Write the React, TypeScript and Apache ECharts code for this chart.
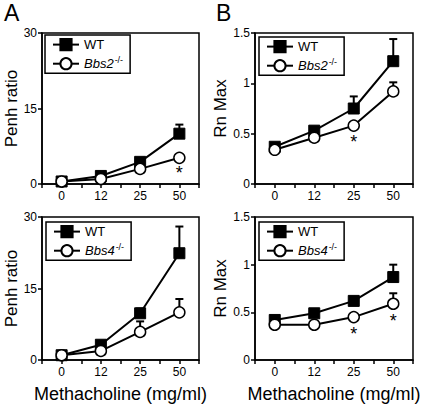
import React, { useEffect, useRef } from 'react';
import * as echarts from 'echarts';

const doses = ['0', '12', '25', '50'];
const penhTickLabels = ['0', '15', '30'];
const rnTickLabels = ['0', '0.5', '1', '1.5'];

const penhWT_Bbs2 = [0.5, 1.6, 4.4, 10.0];
const penhKO_Bbs2 = [0.5, 1.0, 3.0, 5.2];
const penhWT_Bbs2_err = [0, 0, 0, 1.8];
const penhKO_Bbs2_err = [0, 0, 0, 0];

const rnWT_Bbs2 = [0.37, 0.53, 0.75, 1.22];
const rnKO_Bbs2 = [0.34, 0.46, 0.58, 0.92];
const rnWT_Bbs2_err = [0, 0, 0.12, 0.22];
const rnKO_Bbs2_err = [0, 0, 0, 0.09];

const penhWT_Bbs4 = [1.0, 3.2, 9.8, 22.4];
const penhKO_Bbs4 = [1.0, 1.9, 5.9, 10.0];
const penhWT_Bbs4_err = [0, 0, 1.0, 5.6];
const penhKO_Bbs4_err = [0, 0, 2.2, 2.8];

const rnWT_Bbs4 = [0.42, 0.49, 0.62, 0.87];
const rnKO_Bbs4 = [0.37, 0.37, 0.45, 0.59];
const rnWT_Bbs4_err = [0, 0, 0, 0.13];
const rnKO_Bbs4_err = [0, 0, 0, 0.11];

const starsPenh_Bbs2 = [[3, 2.2]];
const starsRn_Bbs2 = [[2, 0.42]];
const starsPenh_Bbs4: number[][] = [];
const starsRn_Bbs4 = [[2, 0.27], [3, 0.41]];

const FONT = 'Liberation Sans, Arial, Helvetica, sans-serif';

const grids = [
  { left: 42, top: 33, width: 157, height: 151 },
  { left: 255, top: 33, width: 158, height: 151 },
  { left: 42, top: 217, width: 157, height: 146 },
  { left: 255, top: 217, width: 158, height: 146 },
];

function xAxis(i: number, name: string) {
  return {
    type: 'value',
    gridIndex: i,
    min: -0.5,
    max: 3.5,
    interval: 0.5,
    axisLine: { show: true, onZero: false, lineStyle: { color: '#000', width: 1.5 } },
    axisTick: { show: true, inside: false, length: 4, lineStyle: { color: '#000', width: 1.5 } },
    axisLabel: {
      fontSize: 12,
      color: '#000',
      margin: 6,
      fontFamily: FONT,
      formatter: (v: number) => {
        const r = Math.round(v);
        return Math.abs(v - r) < 1e-6 && r >= 0 && r < doses.length ? doses[r] : '';
      },
    },
    splitLine: { show: false },
    name,
    nameLocation: 'middle',
    nameGap: 25,
    nameTextStyle: { fontSize: 18, color: '#000', fontFamily: FONT },
  };
}

function yAxis(i: number, labels: string[], name: string) {
  const min = Number(labels[0]);
  const max = Number(labels[labels.length - 1]);
  const interval = Number(labels[1]) - Number(labels[0]);
  return {
    type: 'value',
    gridIndex: i,
    min,
    max,
    interval,
    axisLine: { show: true, onZero: false, lineStyle: { color: '#000', width: 1.5 } },
    axisTick: { show: true, inside: false, length: 4, lineStyle: { color: '#000', width: 1.5 } },
    axisLabel: {
      fontSize: 12,
      color: '#000',
      margin: 5,
      fontFamily: FONT,
      formatter: (v: number) => {
        const idx = labels.findIndex((l) => Math.abs(Number(l) - v) < 1e-6);
        return idx >= 0 ? labels[idx] : '';
      },
    },
    splitLine: { show: false },
    name,
    nameLocation: 'middle',
    nameRotate: 90,
    nameGap: 18,
    nameTextStyle: { fontSize: 17, color: '#000', fontFamily: FONT },
  };
}

function lineSeries(i: number, name: string, values: number[], wt: boolean) {
  return {
    type: 'line',
    name,
    xAxisIndex: i,
    yAxisIndex: i,
    data: values.map((v, k) => [k, v]),
    symbol: wt ? 'rect' : 'circle',
    symbolSize: 11,
    z: 3,
    lineStyle: { color: '#000', width: 2 },
    itemStyle: wt
      ? { color: '#000', borderColor: '#000', borderWidth: 1 }
      : { color: '#fff', borderColor: '#000', borderWidth: 1.5 },
  };
}

function errSeries(i: number, values: number[], errs: number[]) {
  return {
    type: 'custom',
    xAxisIndex: i,
    yAxisIndex: i,
    z: 1,
    silent: true,
    data: values.map((v, k) => [k, v, errs[k]]),
    renderItem: (params: any, api: any) => {
      const x = api.value(0);
      const y = api.value(1);
      const e = api.value(2);
      if (!e) return null;
      const p0 = api.coord([x, y]);
      const p1 = api.coord([x, y + e]);
      return {
        type: 'group',
        children: [
          { type: 'line', shape: { x1: p0[0], y1: p0[1], x2: p1[0], y2: p1[1] }, style: { stroke: '#000', lineWidth: 2 } },
          { type: 'line', shape: { x1: p1[0] - 4, y1: p1[1], x2: p1[0] + 4, y2: p1[1] }, style: { stroke: '#000', lineWidth: 2 } },
        ],
      };
    },
  };
}

function starSeries(i: number, pts: number[][]) {
  return {
    type: 'custom',
    xAxisIndex: i,
    yAxisIndex: i,
    z: 4,
    silent: true,
    data: pts,
    renderItem: (params: any, api: any) => {
      const p = api.coord([api.value(0), api.value(1)]);
      return {
        type: 'text',
        style: { text: '*', x: p[0], y: p[1], align: 'center', verticalAlign: 'middle', fontSize: 18, fill: '#000', fontFamily: FONT },
      };
    },
  };
}

function legend(left: number, top: number, ko: string) {
  return {
    orient: 'vertical',
    left,
    top,
    data: ['WT', ko],
    selectedMode: false,
    itemWidth: 26,
    itemHeight: 14,
    itemGap: 4,
    padding: [3, 7, 3, 7],
    borderColor: '#000',
    borderWidth: 1.5,
    backgroundColor: '#fff',
    formatter: (n: string) => (n === 'WT' ? '{n|WT}' : `{i|${n.slice(0, 4)}}{s|-/-}`),
    textStyle: {
      color: '#000',
      fontFamily: FONT,
      fontSize: 13,
      rich: {
        n: { fontSize: 13, color: '#000', fontFamily: FONT },
        i: { fontSize: 13, fontStyle: 'italic', color: '#000', fontFamily: FONT },
        s: { fontSize: 9, color: '#000', fontFamily: FONT, padding: [0, 0, 8, 1] },
      },
    },
  };
}

export default function App() {
  const ref = useRef<HTMLDivElement>(null);
  useEffect(() => {
    if (!ref.current) return;
    const chart = echarts.init(ref.current, undefined, { renderer: 'svg' });
    chart.setOption({
      animation: false,
      backgroundColor: '#fff',
      textStyle: { fontFamily: FONT },
      grid: grids.map((g) => ({ ...g, show: true, borderColor: '#000', borderWidth: 1.5, backgroundColor: 'transparent' })),
      xAxis: [xAxis(0, ''), xAxis(1, ''), xAxis(2, 'Methacholine (mg/ml)'), xAxis(3, 'Methacholine (mg/ml)')],
      yAxis: [
        yAxis(0, penhTickLabels, 'Penh ratio'),
        yAxis(1, rnTickLabels, 'Rn Max'),
        yAxis(2, penhTickLabels, 'Penh ratio'),
        yAxis(3, rnTickLabels, 'Rn Max'),
      ],
      legend: [legend(45, 35, 'Bbs2-/-'), legend(259, 37, 'Bbs2-/-'), legend(46, 222, 'Bbs4-/-'), legend(259, 222, 'Bbs4-/-')],
      graphic: [
        { type: 'text', left: 4, top: 1, style: { text: 'A', fontSize: 23, fill: '#000', fontFamily: FONT } },
        { type: 'text', left: 216, top: 1, style: { text: 'B', fontSize: 23, fill: '#000', fontFamily: FONT } },
      ],
      series: [
        errSeries(0, penhWT_Bbs2, penhWT_Bbs2_err),
        errSeries(0, penhKO_Bbs2, penhKO_Bbs2_err),
        lineSeries(0, 'WT', penhWT_Bbs2, true),
        lineSeries(0, 'Bbs2-/-', penhKO_Bbs2, false),
        starSeries(0, starsPenh_Bbs2),

        errSeries(1, rnWT_Bbs2, rnWT_Bbs2_err),
        errSeries(1, rnKO_Bbs2, rnKO_Bbs2_err),
        lineSeries(1, 'WT', rnWT_Bbs2, true),
        lineSeries(1, 'Bbs2-/-', rnKO_Bbs2, false),
        starSeries(1, starsRn_Bbs2),

        errSeries(2, penhWT_Bbs4, penhWT_Bbs4_err),
        errSeries(2, penhKO_Bbs4, penhKO_Bbs4_err),
        lineSeries(2, 'WT', penhWT_Bbs4, true),
        lineSeries(2, 'Bbs4-/-', penhKO_Bbs4, false),
        starSeries(2, starsPenh_Bbs4),

        errSeries(3, rnWT_Bbs4, rnWT_Bbs4_err),
        errSeries(3, rnKO_Bbs4, rnKO_Bbs4_err),
        lineSeries(3, 'WT', rnWT_Bbs4, true),
        lineSeries(3, 'Bbs4-/-', rnKO_Bbs4, false),
        starSeries(3, starsRn_Bbs4),
      ],
    });
    return () => chart.dispose();
  }, []);
  return <div ref={ref} style={{ position: 'fixed', left: 0, top: 0, width: 424, height: 404 }} />;
}
